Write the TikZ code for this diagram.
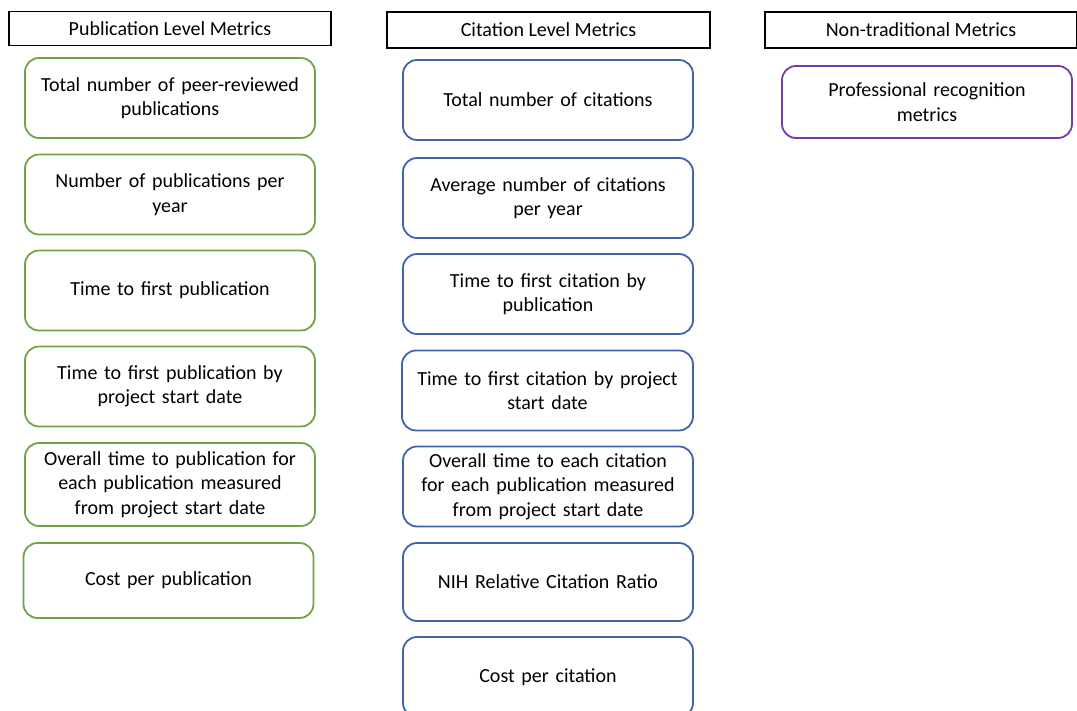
\documentclass[tikz,border=0pt]{standalone}
\usepackage{fontspec}
\setmainfont{Carlito}
\usepackage{tikz}
\usetikzlibrary{positioning}
\definecolor{pubgreen}{RGB}{112,163,72}
\definecolor{citblue}{RGB}{62,100,172}
\definecolor{recpurple}{RGB}{120,60,170}

\begin{document}
\begin{tikzpicture}[x=1pt,y=-1pt,font=\fontsize{20}{24.5}\selectfont]
		
		% Setup the styles for the boxes
		\tikzset{header style/.style={draw=black,
				line width=1.8pt,
				minimum height=34pt,
				inner sep=0pt},
			metric style/.style={draw,
				rounded corners=14pt,
				line width=1.8pt,
				minimum width=290pt,
				minimum height=80pt,
				text width=280pt,
				align=center,
				inner sep=0pt},
			pub style/.style={metric style, draw=pubgreen},
			cit style/.style={metric style, draw=citblue},
			rec style/.style={metric style, draw=recpurple}}
		
		\clip (0,0) rectangle (1077,711);
		
		% Draw the column headers
		\node[header style, minimum width=322pt] at (170, 28.5)  (pubhead) {Publication Level Metrics};
		\node[header style, minimum width=323pt, minimum height=36pt] at (548.5, 30) (cithead) {Citation Level Metrics};
		\node[header style, minimum width=312pt, minimum height=36pt] at (921, 30)   (nontradhead) {Non-traditional Metrics};
		
		% Publication level metrics
		\node[pub style] at (170, 98)    (pubtotal)    {Total number of peer-reviewed\\ publications};
		\node[pub style] at (170, 194.5) (pubyear)     {Number of publications per\\ year};
		\node[pub style] at (170, 290.5) (pubfirst)    {Time to first publication};
		\node[pub style] at (170, 386.5) (pubstart)    {Time to first publication by\\ project start date};
		\node[pub style, minimum height=83pt] at (170, 484.5) (puboverall) {Overall time to publication for\\ each publication measured\\ from project start date};
		\node[pub style, minimum height=75pt] at (168.5, 580.5) (pubcost) {Cost per publication};
		
		% Citation level metrics
		\node[cit style] at (548, 100)   (cittotal)    {Total number of citations};
		\node[cit style] at (548, 198)   (cityear)     {Average number of citations\\ per year};
		\node[cit style] at (548, 294)   (citfirst)    {Time to first citation by\\ publication};
		\node[cit style, minimum width=291pt] at (547.5, 390.5) (citstart) {Time to first citation by project\\ start date};
		\node[cit style] at (548, 486.5) (citoverall)  {Overall time to each citation\\ for each publication measured\\ from project start date};
		\node[cit style, minimum height=78pt] at (548, 582) (citratio) {NIH Relative Citation Ratio};
		\node[cit style] at (548, 677)   (citcost)     {Cost per citation};
		
		% Non-traditional metrics
		\node[rec style, minimum height=72pt] at (927, 102) (recognition) {Professional recognition\\ metrics};
		
		\end{tikzpicture}
\end{document}
